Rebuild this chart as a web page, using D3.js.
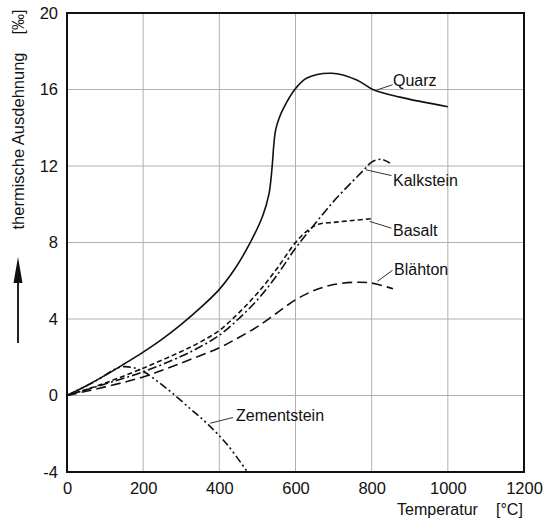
<!DOCTYPE html>
<html>
<head>
<meta charset="utf-8">
<script src="https://cdn.jsdelivr.net/npm/d3@7"></script>
<style>
  html, body { margin: 0; padding: 0; background: #fff; }
  svg { display: block; }
  text { font-family: "Liberation Sans", Arial, sans-serif; fill: #111; }
</style>
</head>
<body>
<svg id="chart" width="545" height="519"></svg>
<script>
// ---- data (temperature °C, thermal expansion ‰) ----
const xTicks = [0, 200, 400, 600, 800, 1000, 1200];
const yTicks = [-4, 0, 4, 8, 12, 16, 20];

const quarzT = [0, 50, 100, 150, 200, 250, 300, 350, 400, 440, 480, 514, 530, 536, 540, 543, 548, 557, 568, 598, 630, 695, 761, 803, 874, 1000];
const quarzV = [0, 0.5, 1.05, 1.65, 2.27, 2.95, 3.72, 4.58, 5.55, 6.6, 7.95, 9.4, 10.5, 11.4, 12.3, 13.1, 13.9, 14.5, 15.0, 16.0, 16.6, 16.85, 16.5, 16.0, 15.6, 15.1];

const kalkT = [0, 100, 200, 300, 350, 400, 450, 500, 550, 600, 650, 700, 750, 780, 800, 825, 848];
const kalkV = [0, 0.6, 1.24, 2.05, 2.55, 3.15, 4.0, 5.0, 6.25, 7.7, 8.95, 10.15, 11.2, 11.8, 12.2, 12.35, 12.15];

const basaltT = [0, 100, 200, 300, 350, 400, 450, 500, 550, 600, 630, 660, 700, 750, 800];
const basaltV = [0, 0.65, 1.43, 2.3, 2.8, 3.4, 4.3, 5.35, 6.6, 8.0, 8.6, 8.95, 9.05, 9.15, 9.25];

const blaehT = [0, 100, 200, 300, 400, 450, 500, 550, 600, 650, 700, 756, 800, 856];
const blaehV = [0, 0.45, 0.97, 1.7, 2.5, 3.02, 3.6, 4.3, 5.0, 5.5, 5.8, 5.92, 5.88, 5.58];

const zementT = [0, 70, 140, 175, 205, 240, 275, 323, 367, 420, 472];
const zementV = [0, 0.7, 1.48, 1.45, 1.2, 0.7, 0.15, -0.68, -1.45, -2.55, -3.95];

const seriesNames = ["Quarz", "Kalkstein", "Basalt", "Blähton", "Zementstein"];

// ---- layout ----
const svg = d3.select("#chart");
const x = d3.scaleLinear().domain([0, 1200]).range([67, 524]);
const y = d3.scaleLinear().domain([-4, 20]).range([472, 13]);
const fmt = d => String(d);

// grid
const grid = svg.append("g");
grid.selectAll("line.vx").data(xTicks.slice(1, -1)).join("line")
  .attr("x1", d => x(d)).attr("x2", d => x(d))
  .attr("y1", y(20)).attr("y2", y(-4))
  .attr("stroke", "#b0b0b0").attr("stroke-width", 1);
grid.selectAll("line.hy").data(yTicks.slice(1, -1)).join("line")
  .attr("x1", x(0)).attr("x2", x(1200))
  .attr("y1", d => y(d)).attr("y2", d => y(d))
  .attr("stroke", "#b0b0b0").attr("stroke-width", 1);

// axes (labels only)
const xAxis = d3.axisBottom(x).tickValues(xTicks).tickFormat(fmt).tickSize(0).tickPadding(10);
const gx = svg.append("g").attr("transform", `translate(0,${y(-4)})`).call(xAxis);
gx.select(".domain").remove();
gx.selectAll("text").style("font-size", "16.5px").style("font-family", "Liberation Sans, Arial, sans-serif").attr("fill", "#111");

const yAxis = d3.axisLeft(y).tickValues(yTicks).tickFormat(fmt).tickSize(0).tickPadding(9);
const gy = svg.append("g").attr("transform", `translate(${x(0)},0)`).call(yAxis);
gy.select(".domain").remove();
gy.selectAll("text").style("font-size", "16.5px").style("font-family", "Liberation Sans, Arial, sans-serif").attr("fill", "#111");

// frame
svg.append("rect")
  .attr("x", x(0)).attr("y", y(20))
  .attr("width", x(1200) - x(0)).attr("height", y(-4) - y(20))
  .attr("fill", "none").attr("stroke", "#111").attr("stroke-width", 2);

// curves
const line = d3.line().x(d => x(d[0])).y(d => y(d[1])).curve(d3.curveCatmullRom.alpha(0.5));
const zip = (a, b) => a.map((t, i) => [t, b[i]]);
const curves = [
  { pts: zip(quarzT, quarzV), dash: null },
  { pts: zip(kalkT, kalkV), dash: "9,3,2,3" },
  { pts: zip(basaltT, basaltV), dash: "5,3" },
  { pts: zip(blaehT, blaehV), dash: "10,5" },
  { pts: zip(zementT, zementV), dash: "8,3,2,3,2,3" }
];
svg.append("g").selectAll("path").data(curves).join("path")
  .attr("d", d => line(d.pts))
  .attr("fill", "none").attr("stroke", "#111").attr("stroke-width", 1.6)
  .attr("stroke-dasharray", d => d.dash);

// labels with leader lines (anchor points in data units)
const labels = [
  { name: seriesNames[0], p: [810, 15.95], q: [855, 16.25], tx: 393, ty: 86 },
  { name: seriesNames[1], p: [785, 11.8], q: [852, 11.5], tx: 393, ty: 186 },
  { name: seriesNames[2], p: [795, 9.1], q: [852, 8.75], tx: 393, ty: 236 },
  { name: seriesNames[3], p: [815, 5.97], q: [855, 6.55], tx: 394, ty: 275 },
  { name: seriesNames[4], p: [376, -1.45], q: [436, -1.15], tx: 236, ty: 421 }
];
const lg = svg.append("g");
lg.selectAll("line").data(labels).join("line")
  .attr("x1", d => x(d.p[0])).attr("y1", d => y(d.p[1]))
  .attr("x2", d => x(d.q[0])).attr("y2", d => y(d.q[1]))
  .attr("stroke", "#333").attr("stroke-width", 1);
lg.selectAll("text").data(labels).join("text")
  .attr("x", d => d.tx).attr("y", d => d.ty)
  .style("font-size", "16px")
  .text(d => d.name);

// axis titles
svg.append("text").attr("x", 397).attr("y", 515).style("font-size", "16px").text("Temperatur");
svg.append("text").attr("x", 496).attr("y", 515).style("font-size", "16px").text("[°C]");

svg.append("text")
  .attr("transform", "translate(24,141) rotate(-90)")
  .attr("text-anchor", "middle")
  .style("font-size", "16.5px")
  .text("thermische Ausdehnung");
svg.append("text")
  .attr("transform", "translate(24,22) rotate(-90)")
  .attr("text-anchor", "middle")
  .style("font-size", "16px")
  .text("[‰]");

// arrow
svg.append("line").attr("x1", 18).attr("x2", 18).attr("y1", 343).attr("y2", 276)
  .attr("stroke", "#222").attr("stroke-width", 2);
svg.append("path")
  .attr("d", d3.line()([[18, 257], [22.5, 283], [13.5, 283]]) + "Z")
  .attr("fill", "#111");
</script>
</body>
</html>
